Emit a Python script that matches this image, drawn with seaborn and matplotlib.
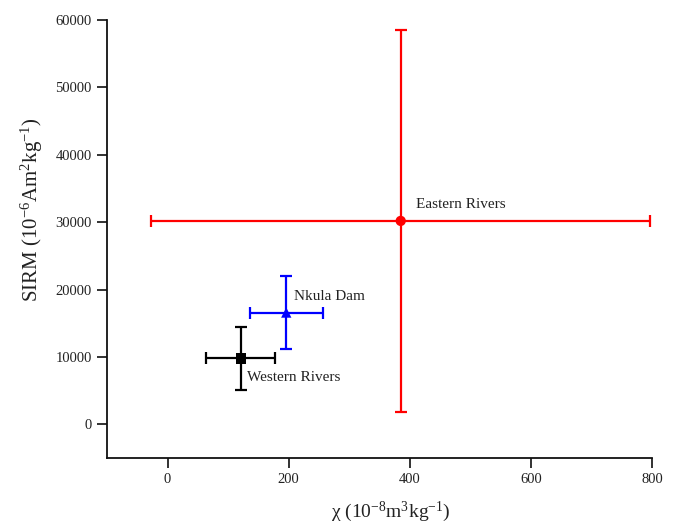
import matplotlib
matplotlib.use("Agg")
import matplotlib.pyplot as plt
import seaborn as sns
import pandas as pd

# values
groups = ["Eastern Rivers", "Nkula Dam", "Western Rivers"]
chi = [385, 196, 121]
chi_err = [412, 60, 57]
sirm = [30200, 16600, 9800]
sirm_err = [28300, 5400, 4700]
colors = ["#ff0000", "#0000ff", "#000000"]
markers = ["o", "^", "s"]
label_pos = [(410, 32700), (209, 19000), (131, 7000)]

df = pd.DataFrame({"group": groups, "chi": chi, "sirm": sirm})

sns.set_theme(style="ticks")
plt.rcParams["font.family"] = ["Liberation Serif", "DejaVu Serif"]
plt.rcParams["mathtext.fontset"] = "custom"
plt.rcParams["mathtext.rm"] = "Liberation Serif"

fig = plt.figure(figsize=(6.75, 5.29), dpi=100)
ax = fig.add_axes([0.1585, 0.134, 0.8075, 0.828])

for i, g in enumerate(groups):
    ax.errorbar(chi[i], sirm[i], xerr=chi_err[i], yerr=sirm_err[i],
                fmt="none", ecolor=colors[i], elinewidth=1.6,
                capsize=4, capthick=1.6, zorder=2)

sns.scatterplot(data=df, x="chi", y="sirm", hue="group", style="group",
                palette=dict(zip(groups, colors)),
                markers=dict(zip(groups, markers)),
                s=55, edgecolor="none", legend=False, ax=ax, zorder=3)

for g, (tx, ty) in zip(groups, label_pos):
    ax.text(tx, ty, g, fontsize=11, va="center", ha="left", color="#222222")

ax.set_xlim(-100, 800)
ax.set_ylim(-5000, 60000)
ax.set_xticks([0, 200, 400, 600, 800])
ax.set_yticks(range(0, 60001, 10000))
ax.set_xlabel(r"χ (10$\mathregular{^{-8}}$m$\mathregular{^{3}}$kg$\mathregular{^{-1}}$)",
              fontsize=14, color="#222222")
ax.set_ylabel(r"SIRM (10$\mathregular{^{-6}}$Am$\mathregular{^{2}}$kg$\mathregular{^{-1}}$)",
              fontsize=15, color="#222222")
ax.xaxis.set_label_coords(0.52, -0.095)
ax.yaxis.set_label_coords(-0.114, 0.568)
ax.tick_params(labelsize=10.5, length=7, width=1.3, pad=4,
               colors="#222222", direction="out")
for side in ["top", "right"]:
    ax.spines[side].set_visible(False)
for side in ["left", "bottom"]:
    ax.spines[side].set_linewidth(1.3)
    ax.spines[side].set_color("#111111")

fig.savefig("out.png", dpi=100)
